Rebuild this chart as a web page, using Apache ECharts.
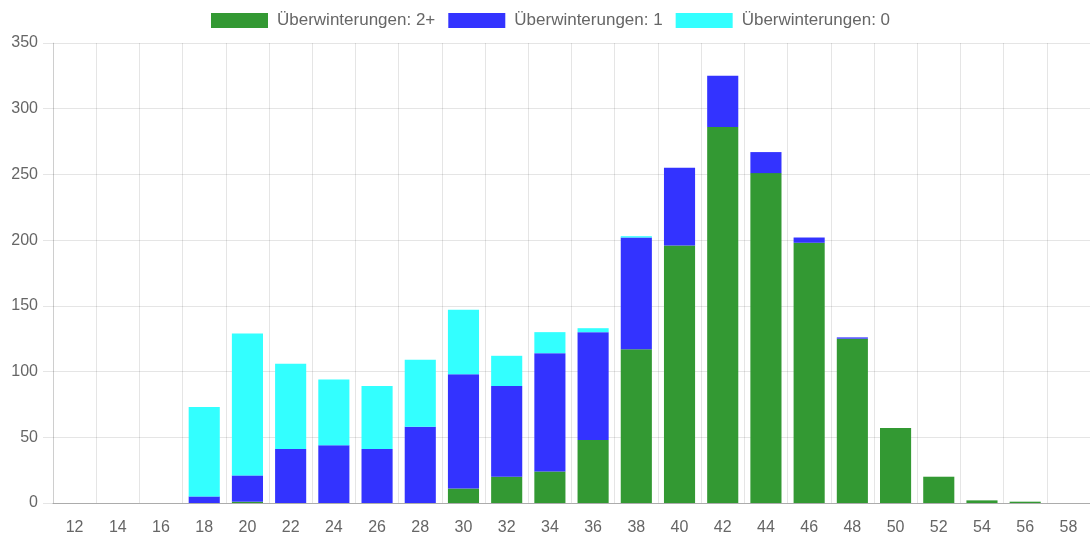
<!DOCTYPE html>
<html>
<head>
<meta charset="utf-8">
<script src="https://cdn.jsdelivr.net/npm/echarts@6/dist/echarts.min.js"></script>
<style>
  html, body { margin: 0; padding: 0; background: #fff; }
  #chart { width: 1090px; height: 537px; }
</style>
</head>
<body>
<div id="chart"></div>
<script>
// Längenklassen (x-Achse)
var categories = ['12','14','16','18','20','22','24','26','28','30','32','34','36','38','40','42','44','46','48','50','52','54','56','58'];
// Überwinterungen 2+
var winter2 = [0,0,0,0,1,0,0,0,0,11,20,24,48,117,196,286,251,198,125,57,20,2,1,0];
// Überwinterungen 1
var winter1 = [0,0,0,5,20,41,44,41,58,87,69,90,82,85,59,39,16,4,1,0,0,0,0,0];
// Überwinterungen 0
var winter0 = [0,0,0,68,108,65,50,48,51,49,23,16,3,1,0,0,0,0,0,0,0,0,0,0];
var yTicks = { min: 0, max: 350, step: 50 };

var names = ['Überwinterungen: 2+', 'Überwinterungen: 1', 'Überwinterungen: 0'];
var colors = ['#339933', '#3333ff', '#33ffff'];
var font = 'Liberation Sans, Arial, Helvetica, sans-serif';
var gridColor = 'rgba(0,0,0,0.1)';

function barSeries(i, data) {
    return {
        name: names[i],
        type: 'bar',
        stack: 'total',
        barWidth: '72%',
        data: data,
        itemStyle: { color: colors[i] },
        emphasis: { disabled: true }
    };
}

var mychart = echarts.init(document.getElementById('chart'));
var option = {
    animation: false,
    textStyle: { fontFamily: font },
    legend: {
        left: 211,
        top: 12,
        padding: 0,
        itemWidth: 57,
        itemHeight: 15,
        itemGap: 13,
        icon: 'rect',
        data: names,
        textStyle: { color: '#666', fontSize: 17, fontFamily: font, padding: [0, 0, 0, 4] }
    },
    grid: { left: 53, top: 43, width: 1040, height: 460 },
    xAxis: {
        type: 'category',
        data: categories,
        boundaryGap: true,
        axisLine: { lineStyle: { color: 'rgba(0,0,0,0.25)' } },
        axisTick: { length: 10, lineStyle: { color: gridColor } },
        splitLine: { show: true, lineStyle: { color: gridColor } },
        axisLabel: { color: '#666', fontSize: 16, margin: 17, fontFamily: font }
    },
    yAxis: {
        type: 'value',
        min: yTicks.min,
        max: yTicks.max,
        interval: yTicks.step,
        axisLine: { show: true, lineStyle: { color: gridColor } },
        axisTick: { show: true, length: 10, lineStyle: { color: gridColor } },
        splitLine: { show: true, lineStyle: { color: gridColor } },
        axisLabel: { color: '#666', fontSize: 16, margin: 15, fontFamily: font }
    },
    series: [
        barSeries(0, winter2),
        barSeries(1, winter1),
        barSeries(2, winter0)
    ]
};
mychart.setOption(option);
</script>
</body>
</html>
